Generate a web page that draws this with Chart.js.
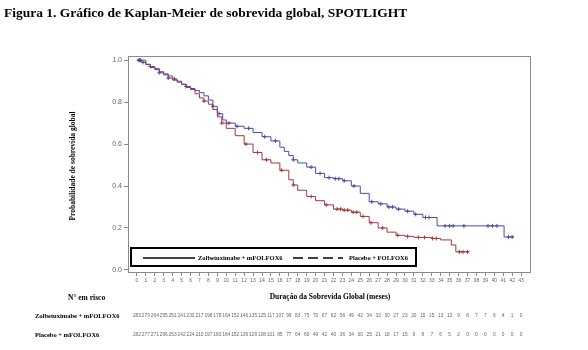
<!DOCTYPE html>
<html>
<head>
<meta charset="utf-8">
<script src="https://cdn.jsdelivr.net/npm/chart.js@4"></script>
<style>
  html, body { margin: 0; padding: 0; background: #fff; }
  #wrap { width: 588px; height: 350px; }
</style>
</head>
<body>
<div id="wrap"><canvas id="km" width="588" height="350"></canvas></div>
<script>
// curve readings (month, survival)
const zolbeMonths = [0, 0.5, 1, 1.5, 2, 2.5, 3, 3.5, 4, 4.5, 5, 5.5, 6, 6.5, 7, 7.5, 8, 8.5, 9, 9.6, 10, 11, 12, 13, 14, 15, 16, 16.5, 17, 17.5, 18, 19, 20, 21, 22, 23, 24, 25, 26, 27, 28, 29, 30, 31, 32, 33.6, 41.1];
const zolbeSurv   = [1.0, 0.99, 0.98, 0.965, 0.955, 0.94, 0.93, 0.915, 0.905, 0.895, 0.885, 0.875, 0.865, 0.855, 0.845, 0.83, 0.81, 0.78, 0.745, 0.715, 0.70, 0.685, 0.675, 0.655, 0.635, 0.615, 0.585, 0.565, 0.545, 0.525, 0.51, 0.49, 0.46, 0.44, 0.435, 0.425, 0.40, 0.365, 0.325, 0.315, 0.30, 0.29, 0.28, 0.265, 0.25, 0.21, 0.157];
const zolbeEnd = 42.2;

const placeboMonths = [0, 1, 1.5, 2, 2.5, 3, 3.5, 4, 4.5, 5, 5.5, 6, 6.5, 7, 7.5, 8, 8.5, 9, 9.5, 10, 11, 12, 13, 14, 15, 16, 17, 17.5, 18, 19, 20, 21, 22, 23, 24, 25, 26, 27, 28, 29, 30, 31, 33, 34, 35.2, 35.7];
const placeboSurv   = [1.0, 0.98, 0.97, 0.96, 0.945, 0.935, 0.925, 0.91, 0.9, 0.885, 0.87, 0.86, 0.84, 0.82, 0.805, 0.79, 0.765, 0.73, 0.7, 0.675, 0.64, 0.60, 0.56, 0.525, 0.51, 0.475, 0.43, 0.405, 0.38, 0.35, 0.33, 0.31, 0.29, 0.285, 0.275, 0.255, 0.225, 0.20, 0.18, 0.165, 0.16, 0.155, 0.15, 0.143, 0.119, 0.086];
const placeboEnd = 37.2;

// censoring marks (months)
const zolbeCensor = [0.2, 0.4, 0.7, 2.5, 3.5, 5.5, 8.5, 9.2, 10.3, 11.2, 12.5, 14.3, 15.5, 17.5, 19.5, 20.5, 21.5, 22.2, 22.6, 23.2, 24.3, 26.3, 27.3, 28.2, 28.6, 29.3, 30.3, 31.2, 32.3, 32.7, 34.5, 35, 35.4, 36.6, 39.3, 39.8, 40.3, 41.6, 42];
const placeboCensor = [0.3, 1.5, 4.2, 7.5, 9.5, 12.2, 13.5, 14.5, 16.2, 17.5, 19.5, 21.2, 22.4, 22.8, 23.2, 23.6, 24.2, 24.6, 25.3, 26.2, 27.5, 29.2, 30.3, 31.5, 32.2, 33.1, 33.5, 36.1, 36.5, 37];

// numbers at risk
const riskMonths = [0, 1, 2, 3, 4, 5, 6, 7, 8, 9, 10, 11, 12, 13, 14, 15, 16, 17, 18, 19, 20, 21, 22, 23, 24, 25, 26, 27, 28, 29, 30, 31, 32, 33, 34, 35, 36, 37, 38, 39, 40, 41, 42, 43];
const zolbeRisk = [283, 279, 264, 255, 251, 241, 233, 217, 198, 178, 164, 152, 146, 135, 125, 117, 107, 99, 83, 75, 70, 67, 62, 56, 49, 42, 34, 32, 30, 27, 23, 20, 15, 15, 13, 13, 9, 8, 7, 7, 6, 4, 1, 0];
const placeboRisk = [282, 277, 271, 266, 253, 242, 224, 210, 197, 183, 164, 152, 139, 129, 108, 101, 85, 77, 64, 60, 49, 42, 40, 36, 34, 30, 25, 21, 18, 17, 15, 9, 8, 7, 6, 5, 2, 0, 0, 0, 0, 0, 0, 0];
const yTicks = [0, 0.2, 0.4, 0.6, 0.8, 1.0];

const blue = "#4b4ba6";
const red = "#a3383d";

function curve(months, surv, end) {
    const pts = months.map((m, i) => ({ x: m, y: surv[i] }));
    pts.push({ x: end, y: surv[surv.length - 1] });
    return pts;
}

function lookup(months, surv, t) {
    let v = surv[0];
    for (let i = 0; i < months.length; i++) {
        if (months[i] <= t) v = surv[i];
    }
    return v;
}

function censorPts(times, months, surv) {
    return times.map(t => ({ x: t, y: lookup(months, surv, t) }));
}

const extras = {
    id: "extras",
    afterDraw(chart) {
        const ctx = chart.ctx;
        const a = chart.chartArea;
        const xs = chart.scales.x;
        ctx.save();

        // plot frame
        ctx.strokeStyle = "#8a8a8a";
        ctx.lineWidth = 1;
        ctx.strokeRect(a.left + 0.5, a.top + 0.5, a.right - a.left, a.bottom - a.top);

        // legend box
        ctx.strokeStyle = "#000";
        ctx.lineWidth = 2;
        ctx.strokeRect(131, 248, 285, 18);
        ctx.lineWidth = 1.6;
        ctx.beginPath();
        ctx.moveTo(143, 258);
        ctx.lineTo(195, 258);
        ctx.stroke();
        ctx.setLineDash([10, 5]);
        ctx.beginPath();
        ctx.moveTo(293, 258);
        ctx.lineTo(343, 258);
        ctx.stroke();
        ctx.setLineDash([]);
        ctx.fillStyle = "#000";
        ctx.textBaseline = "middle";
        ctx.font = "bold 6.5px 'Liberation Serif'";
        ctx.textAlign = "left";
        ctx.fillText("Zolbetuximabe + mFOLFOX6", 198, 258);
        ctx.fillText("Placebo + FOLFOX6", 349, 258);

        // title
        ctx.font = "bold 13.5px 'Liberation Serif'";
        ctx.fillText("Figura 1. Gráfico de Kaplan-Meier de sobrevida global, SPOTLIGHT", 4, 14);

        // axis titles
        ctx.font = "bold 7.5px 'Liberation Serif'";
        ctx.textAlign = "center";
        ctx.fillText("Duração da Sobrevida Global (meses)", 330, 297);
        ctx.textAlign = "left";
        ctx.fillText("N° em risco", 68, 298);
        ctx.save();
        ctx.translate(73, 166);
        ctx.rotate(-Math.PI / 2);
        ctx.textAlign = "center";
        ctx.fillText("Probabilidade de sobrevida global", 0, 0);
        ctx.restore();

        // risk table
        ctx.font = "bold 6.5px 'Liberation Serif'";
        ctx.textAlign = "left";
        ctx.fillText("Zolbetuximabe + mFOLFOX6", 35, 316);
        ctx.fillText("Placebo + mFOLFOX6", 35, 335);
        ctx.font = "4.8px 'Liberation Sans'";
        ctx.fillStyle = "#666";
        ctx.textAlign = "center";
        riskMonths.forEach((m, i) => {
            const px = xs.getPixelForValue(m);
            ctx.fillText(String(zolbeRisk[i]), px, 316);
            ctx.fillText(String(placeboRisk[i]), px, 335);
        });
        ctx.restore();
    }
};

new Chart(document.getElementById("km"), {
    type: "line",
    data: {
        datasets: [
            {
                label: "Zolbetuximabe + mFOLFOX6",
                data: curve(zolbeMonths, zolbeSurv, zolbeEnd),
                borderColor: blue,
                borderWidth: 1,
                stepped: "before",
                pointRadius: 0,
                fill: false,
            },
            {
                label: "Placebo + mFOLFOX6",
                data: curve(placeboMonths, placeboSurv, placeboEnd),
                borderColor: red,
                borderWidth: 1,
                stepped: "before",
                pointRadius: 0,
                fill: false,
            },
            {
                type: "scatter",
                data: censorPts(zolbeCensor, zolbeMonths, zolbeSurv),
                pointStyle: "cross",
                pointRadius: 2,
                borderColor: blue,
                borderWidth: 1,
                showLine: false,
            },
            {
                type: "scatter",
                data: censorPts(placeboCensor, placeboMonths, placeboSurv),
                pointStyle: "cross",
                pointRadius: 2,
                borderColor: red,
                borderWidth: 1,
                showLine: false,
            },
        ],
    },
    options: {
        responsive: false,
        animation: false,
        layout: { padding: { top: 56, right: 58, left: 0, bottom: 0 } },
        plugins: {
            legend: { display: false },
            tooltip: { enabled: false },
        },
        scales: {
            x: {
                type: "linear",
                min: -1,
                max: 44,
                afterFit: (s) => { s.height = 78; },
                afterBuildTicks: (s) => { s.ticks = riskMonths.map(v => ({ value: v })); },
                grid: { drawOnChartArea: false, tickLength: 4, color: "#8a8a8a" },
                border: { color: "#8a8a8a" },
                ticks: {
                    autoSkip: false,
                    maxRotation: 0,
                    padding: 2,
                    color: "#666",
                    font: { size: 5, family: "'Liberation Sans'" },
                },
            },
            y: {
                min: -0.01,
                max: 1.02,
                afterFit: (s) => { s.width = 128; },
                afterBuildTicks: (s) => { s.ticks = yTicks.map(v => ({ value: v })); },
                grid: { drawOnChartArea: false, tickLength: 4, color: "#8a8a8a" },
                border: { color: "#8a8a8a" },
                ticks: {
                    padding: 2,
                    color: "#666",
                    font: { size: 7, family: "'Liberation Sans'" },
                    callback: (v) => v.toFixed(1),
                },
            },
        },
    },
    plugins: [extras],
});
</script>
</body>
</html>
